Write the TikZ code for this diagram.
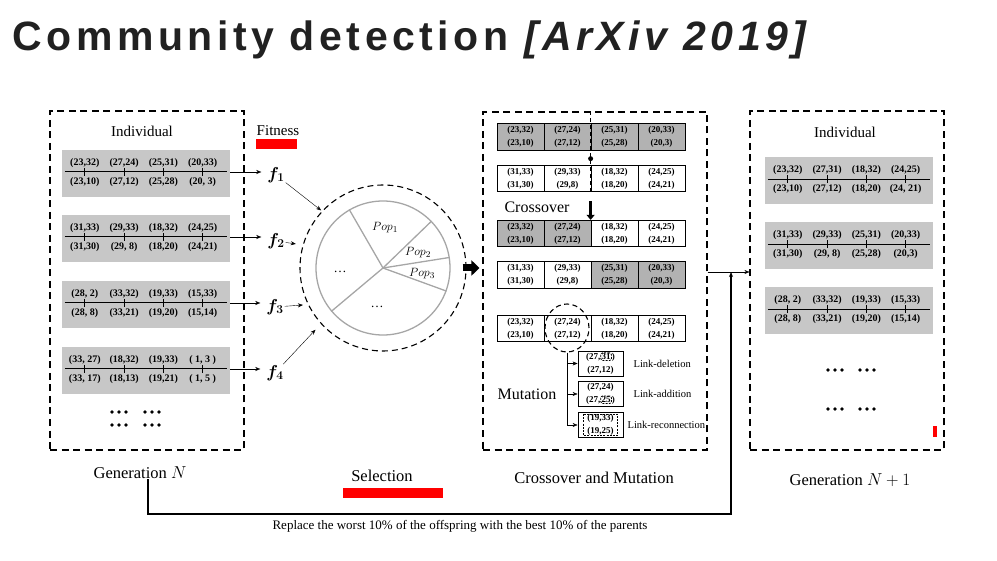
\documentclass[tikz,border=0pt]{standalone}
\usepackage{fontspec}
\setmainfont{Liberation Serif}
\newfontfamily\titlefont[LetterSpace=11]{Liberation Sans}
\usepackage{bm}
\usetikzlibrary{arrows.meta,positioning,shapes.geometric,calc}
\colorlet{chromgray}{black!22}
\colorlet{cellgray}{black!30}
\colorlet{piegray}{black!35}
\tikzset{
  >={Stealth[length=5pt,width=4pt]},
  region/.style={draw,line width=1.1pt,dash pattern=on 7pt off 4.5pt,inner sep=0pt},
  chrom/.style={fill=chromgray,minimum width=#1,minimum height=47pt,inner sep=0pt},
  chrom/.default=168pt,
  gene/.style={line width=1pt},
  allele/.style={font=\fontsize{10}{12}\selectfont\bfseries,inner sep=0pt},
  cell/.style={draw,line width=0.8pt,fill=#1,minimum width=47pt,minimum height=26.5pt,
    inner sep=0pt,align=center,font=\fontsize{9}{13}\selectfont\bfseries},
  cell/.default=white,
  mbox/.style={cell,minimum width=45pt,minimum height=25pt},
  hlbox/.style={draw,fill=none,minimum width=0pt,minimum height=0pt,line width=0.8pt,
    dash pattern=on 2pt off 1.2pt,rounded corners=2pt,inner sep=0.8pt},
  headlbl/.style={font=\fontsize{15}{18}\selectfont,inner sep=0pt},
  stagelbl/.style={font=\fontsize{16.5}{19}\selectfont,inner sep=0pt},
  steplbl/.style={font=\fontsize{16}{19}\selectfont,inner sep=0pt},
  flabel/.style={font=\fontsize{17}{20}\selectfont,inner sep=1pt},
  poplbl/.style={font=\fontsize{13}{15}\selectfont,inner sep=0pt},
  linklbl/.style={font=\fontsize{10.5}{12}\selectfont,inner sep=0pt},
  notetext/.style={font=\fontsize{13}{15}\selectfont,inner sep=0pt},
  spoke/.style={draw=piegray,line width=1.3pt},
  fat/.style={line width=7pt,-{Triangle[length=8pt,width=15pt]}},
  fatdown/.style={line width=3pt,-{Triangle[length=5pt,width=8pt]}},
  % three bold dots
  pics/etc/.style={code={
    \foreach \d in {-7,0,7} \fill (\d,0) circle (1.9pt);
  }},
}
% dashed frame round a changed number
\newcommand\hl[1]{\tikz[baseline=(hl.base)]\node[hlbox] (hl) {#1};}
% name, centre, top/bottom alleles
\newcommand\chromosome[3]{%
  \node[chrom] (#1) at (#2) {};
  \draw[gene] ([shift={(3pt,1.5pt)}]#1.west) -- ([shift={(-3pt,1.5pt)}]#1.east);
  \foreach \up/\dn [count=\i] in {#3} {
    \draw[gene] ([shift={(\i*39.3pt-16.3pt,5.5pt)}]#1.west) -- ++(0,8);
    \node[allele] (#1t\i) at ([shift={(\i*39.3pt-16.3pt,10.5pt)}]#1.west) {\up};
    \node[allele] (#1b\i) at ([shift={(\i*39.3pt-16.3pt,-8.5pt)}]#1.west) {\dn};
  }
}
% name, y, cells
\newcommand\crossrow[3]{%
  \foreach \up/\dn/\sh [count=\i] in {#3}
    \node[cell=\sh] (#1c\i) at (473.5+\i*47,#2) {\up\\\dn};
}

\begin{document}
\begin{tikzpicture}[x=1pt,y=-1pt]
  \useasboundingbox (0,0) rectangle (997,561);
  \node[anchor=base west,font=\titlefont\bfseries\fontsize{41}{45}\selectfont,text=black!87] (title) at (9,51)
    {Community detection \textit{[ArXiv 2019]}};

  % generation N
  \node[region,minimum width=194pt,minimum height=339pt] (genN) at (147,280.5) {};
  \node[headlbl] (indN) at (142,131) {Individual};
  \chromosome{a1}{146,173.5}{{(23,32)}/{(23,10)},{(27,24)}/{(27,12)},{(25,31)}/{(25,28)},{(20,33)}/{(20, 3)}}
  \chromosome{a2}{146,238.5}{{(31,33)}/{(31,30)},{(29,33)}/{(29, 8)},{(18,32)}/{(18,20)},{(24,25)}/{(24,21)}}
  \chromosome{a3}{146,304.5}{{(28, 2)}/{(28, 8)},{(33,32)}/{(33,21)},{(19,33)}/{(19,20)},{(15,33)}/{(15,14)}}
  \chromosome{a4}{146,370.5}{{(33, 27)}/{(33, 17)},{(18,32)}/{(18,13)},{(19,33)}/{(19,21)},{( 1, 3 )}/{( 1, 5 )}}
  \foreach \x in {119,152} \foreach \y in {412,425} \pic at (\x,\y) {etc};
  \node[stagelbl] (gNlbl) at (140,473) {Generation $N$};

  % crossover and mutation frame
  \node[region,minimum width=224pt,minimum height=338pt] (cm) at (595,281) {};

  % selection
  \node[headlbl] (fitlbl) at (278,131) {Fitness};
  \fill[red] (256,139) rectangle (297,149);
  \node[flabel] (f1) at (276,175) {$\bm{f}_{\bm 1}$};
  \node[flabel] (f2) at (276,241) {$\bm{f}_{\bm 2}$};
  \node[flabel] (f3) at (275,307) {$\bm{f}_{\bm 3}$};
  \node[flabel] (f4) at (275,373) {$\bm{f}_{\bm 4}$};
  \foreach \k in {1,...,4}
    \draw[->,shorten >=5pt] ([yshift=1.5pt]a\k.east) -- ([yshift=1.5pt]a\k.east -| f\k.west);
  \node[circle,draw,line width=1.1pt,dash pattern=on 6pt off 4pt,minimum size=166pt,inner sep=0pt] (wheel) at (383,268) {};
  \node[circle,draw=piegray,line width=1.3pt,minimum size=134pt,inner sep=0pt] (pie) at (383,268) {};
  \foreach \a in {120,44,9,340,220} \draw[spoke] (pie.center) -- (pie.\a);
  \node[poplbl] (p1) at (385,228) {$Pop_1$};
  \node[poplbl] (p2) at (418,253) {$Pop_2$};
  \node[poplbl] (p3) at (422,274) {$Pop_3$};
  \node[poplbl] (pa) at (340,272) {\ldots};
  \node[poplbl] (pb) at (377,307) {\ldots};
  \draw[->,shorten >=1pt] (f1) -- (wheel.137);
  \draw[->,shorten >=7pt] (f2) -- (wheel.164);
  \draw[->,shorten >=5pt] (f3) -- (wheel.206);
  \draw[->,shorten >=8pt] (f4) -- (wheel.222);
  \node[stagelbl] (selLbl) at (382,476) {Selection};
  \fill[red] (343,488) rectangle (443,498);
  \draw[fat,shorten <=-4pt,shorten >=3pt] (wheel.east) -- (wheel.east -| cm.west);

  % crossover and mutation
  \crossrow{x1}{137}{{(23,32)}/{(23,10)}/cellgray,{(27,24)}/{(27,12)}/cellgray,{(25,31)}/{(25,28)}/cellgray,{(20,33)}/{(20,3)}/cellgray}
  \crossrow{x2}{178.5}{{(31,33)}/{(31,30)}/white,{(29,33)}/{(29,8)}/white,{(18,32)}/{(18,20)}/white,{(24,25)}/{(24,21)}/white}
  \crossrow{x3}{233.5}{{(23,32)}/{(23,10)}/cellgray,{(27,24)}/{(27,12)}/cellgray,{(18,32)}/{(18,20)}/white,{(24,25)}/{(24,21)}/white}
  \crossrow{x4}{275}{{(31,33)}/{(31,30)}/white,{(29,33)}/{(29,8)}/white,{(25,31)}/{(25,28)}/cellgray,{(20,33)}/{(20,3)}/cellgray}
  \crossrow{x5}{328.5}{{(23,32)}/{(23,10)}/white,{(27,24)}/{(27,12)}/white,{(18,32)}/{(18,20)}/white,{(24,25)}/{(24,21)}/white}
  \draw[line width=1pt,dash pattern=on 4pt off 3pt] (cm.north -| x1c3.north west) -- (x2c3.south west);
  \fill ([yshift=-8pt]x1c3.south west) circle (2.5pt);
  \draw[fatdown] ([yshift=-9pt]x2c3.south west) -- (x3c3.north west);
  \node[steplbl] (xoLbl) at (537,207) {Crossover};
  \node[ellipse,draw,line width=1.1pt,dash pattern=on 5pt off 3.5pt,minimum width=44pt,minimum height=48pt,inner sep=0pt] (mut) at (567,328) {};
  \node[mbox] (m1) at (600.5,363.5) {(27,\hl{31})\\(27,12)};
  \node[mbox] (m2) at (600.5,394) {(27,24)\\(27,\hl{25})};
  \node[mbox] (m3) at (600.5,425) {(19,33)\\(19,25)};
  \draw[line width=0.8pt,dash pattern=on 2pt off 1.2pt] ([shift={(6pt,-2pt)}]m3.north west) rectangle ([shift={(-6pt,2pt)}]m3.south east);
  \draw[->] (mut.south) |- (m3.west);
  \draw[->] (mut.south |- m1.west) -- (m1.west);
  \draw[->] (mut.south |- m2.west) -- (m2.west);
  \node[linklbl,right=10pt of m1] (ldel) {Link-deletion};
  \node[linklbl,right=10pt of m2] (ladd) {Link-addition};
  \node[linklbl,right=4pt of m3] (lrec) {Link-reconnection};
  \node[steplbl] (mutLbl) at (527,394) {Mutation};
  \node[stagelbl] (cmLbl) at (594,478) {Crossover and Mutation};

  % generation N+1
  \node[region,minimum width=194pt,minimum height=339pt] (genN1) at (847,280.5) {};
  \node[headlbl] (indN1) at (845,132) {Individual};
  \chromosome{b1}{849,181}{{(23,32)}/{(23,10)},{(27,31)}/{(27,12)},{(18,32)}/{(18,20)},{(24,25)}/{(24, 21)}}
  \chromosome{b2}{849,246}{{(31,33)}/{(31,30)},{(29,33)}/{(29, 8)},{(25,31)}/{(25,28)},{(20,33)}/{(20,3)}}
  \chromosome{b3}{849,311}{{(28, 2)}/{(28, 8)},{(33,32)}/{(33,21)},{(19,33)}/{(19,20)},{(15,33)}/{(15,14)}}
  \foreach \x in {835,867} \foreach \y in {370,409} \pic at (\x,\y) {etc};
  \fill[red] (933,426) rectangle (937,437);
  \node[stagelbl] (gN1lbl) at (850,480) {Generation $N+1$};

  % elitism loop
  \coordinate (join) at (731,272);
  \coordinate (loop) at (731,514);
  \draw[->] (cm.east |- join) -- (genN1.west |- join);
  \draw[->,line width=1.2pt] ([xshift=8pt]gNlbl.south) -- ([xshift=8pt]gNlbl.south |- loop) -- (loop) -- (join);
  \node[notetext] (note) at (460,526) {Replace the worst 10\% of the offspring with the best 10\% of the parents};
\end{tikzpicture}
\end{document}
